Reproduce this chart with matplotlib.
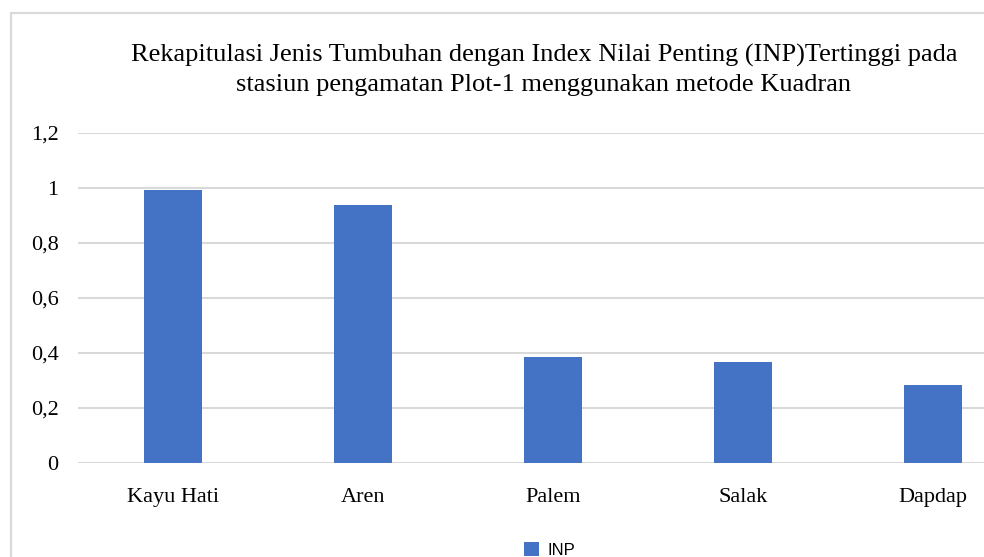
import matplotlib
import matplotlib.pyplot as plt
from matplotlib.patches import Rectangle

matplotlib.use("Agg")

# data
jenis = ["Kayu Hati", "Aren", "Palem", "Salak", "Dapdap"]
inp = [0.993, 0.938, 0.385, 0.366, 0.285]
y_ticks = [0, 0.2, 0.4, 0.6, 0.8, 1, 1.2]
y_labels = ["0", "0,2", "0,4", "0,6", "0,8", "1", "1,2"]

W, H = 984, 557
BLUE = "#4472C4"
GRID = "#d9d9d9"
SERIF = ["Liberation Serif", "DejaVu Serif"]

fig = plt.figure(figsize=(W / 100, H / 100), dpi=100)
fig.patch.set_facecolor("white")

# outer chart border, cut off at right and bottom like the screenshot
fig.patches.append(
    Rectangle((11 / W, -0.1), 1.2, 1 - 13 / H + 0.1, transform=fig.transFigure,
              fill=False, edgecolor=GRID, lw=1.6, zorder=0)
)

ax = fig.add_axes([78 / W, (H - 463) / H, (1028 - 78) / W, 330 / H])
x = range(len(jenis))
bars = ax.bar(x, inp, width=0.31, color=BLUE, label="INP", zorder=3)

ax.set_xlim(-0.5, len(jenis) - 0.5)
ax.set_ylim(0, 1.2)
ax.set_yticks(y_ticks)
ax.set_yticklabels(y_labels, fontfamily=SERIF, fontsize=16)
ax.set_xticks(list(x))
ax.set_xticklabels(jenis, fontfamily=SERIF, fontsize=16)
ax.tick_params(axis="both", length=0)
ax.tick_params(axis="y", pad=14)
ax.tick_params(axis="x", pad=18)
ax.yaxis.grid(True, color=GRID, lw=1.5, zorder=0)
ax.set_axisbelow(True)
for s in ax.spines.values():
    s.set_visible(False)

fig.text(544 / W, 1 - 70 / H,
         "Rekapitulasi Jenis Tumbuhan dengan Index Nilai Penting (INP)Tertinggi pada\n"
         "stasiun pengamatan Plot-1 menggunakan metode Kuadran",
         ha="center", va="center", fontfamily=SERIF, fontsize=19, linespacing=1.4)

ax.legend(loc="upper left", bbox_to_anchor=(514 / W, 1 - 532 / H),
          bbox_transform=fig.transFigure, frameon=False,
          prop={"family": ["Liberation Sans", "DejaVu Sans"], "size": 12},
          handlelength=0.9, handleheight=0.9, handletextpad=0.5,
          borderpad=0.1)

fig.savefig("out.png", dpi=100)
